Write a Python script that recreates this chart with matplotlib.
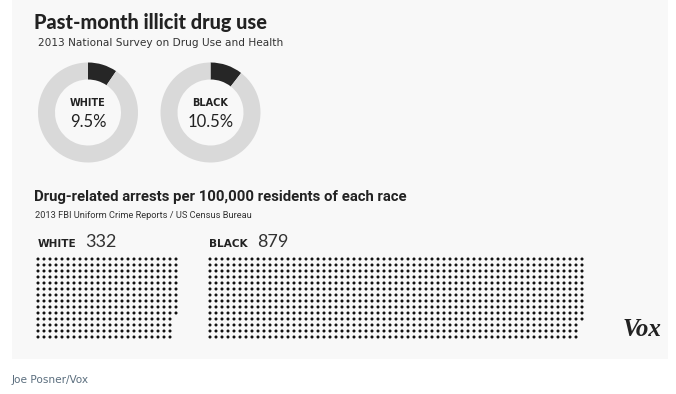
import numpy as np
import matplotlib
matplotlib.use("Agg")
import matplotlib.pyplot as plt
from matplotlib.patches import Rectangle

## Data
groups = ["WHITE", "BLACK"]
drug_use_pct = [9.5, 10.5]          # past-month illicit drug use, %
arrests_per_100k = [332, 879]       # drug-related arrests per 100,000 residents
dot_rows = 14                       # dots per column in the arrest grids

title1 = "Past-month illicit drug use"
sub1 = "2013 National Survey on Drug Use and Health"
title2 = "Drug-related arrests per 100,000 residents of each race"
sub2 = "2013 FBI Uniform Crime Reports / US Census Bureau"
credit = "Joe Posner/Vox"

W, H = 676, 394
fig = plt.figure(figsize=(W / 100, H / 100), dpi=100)
fig.patch.set_facecolor("white")

## Main canvas in pixel coordinates
ax = fig.add_axes([0, 0, 1, 1])
ax.set_xlim(0, W)
ax.set_ylim(H, 0)
ax.axis("off")
ax.add_patch(Rectangle((12, 0), 656, 359, facecolor="#f8f8f8", edgecolor="none", zorder=0))

dark = "#222222"

## Titles
ax.text(34, 22, title1, fontsize=14.3, fontweight="black", family="Lato", color=dark,
        va="center", ha="left")
ax.text(38, 43, sub1, fontsize=7.6, color="#333333", va="center", ha="left")
ax.text(34, 197, title2, fontsize=10.7, fontweight="bold", family="Roboto", color=dark,
        va="center", ha="left")
ax.text(35, 215, sub2, fontsize=6.7, family="Roboto", color="#333333", va="center", ha="left")

## Donuts
centers = [(88, 112.5), (210.5, 112.5)]
radius = 50
for (cx, cy), pct, name in zip(centers, drug_use_pct, groups):
    pax = fig.add_axes([(cx - radius) / W, (H - cy - radius) / H, 2 * radius / W, 2 * radius / H])
    pax.pie([pct, 100 - pct], colors=["#262626", "#d9d9d9"], startangle=90, counterclock=False,
            radius=1, wedgeprops=dict(width=0.34, edgecolor="none"))
    pax.set_xlim(-1, 1)
    pax.set_ylim(-1, 1)
    pax.axis("off")
    ax.text(cx, cy - 10, name, fontsize=7, fontweight="bold", color=dark, ha="center", va="center")
    ax.text(cx, cy + 9, "%.1f%%" % pct, fontsize=12, family="Lato", color=dark,
            ha="center", va="center")

## Dot grids (filled column by column, top to bottom)
starts = [(38, 259), (210, 259)]
step = 6.0
label_x = [(38, 85), (209, 257)]
for (x0, y0), n, name, (lx, nx) in zip(starts, arrests_per_100k, groups, label_x):
    idx = np.arange(n)
    cols = idx // dot_rows
    rows = idx % dot_rows
    ax.scatter(x0 + cols * step, y0 + rows * step, s=4.8, color="#111111", edgecolors="none", zorder=3)
    ax.text(lx, 243.5, name, fontsize=7.6, fontweight="bold", color=dark, ha="left", va="center")
    ax.text(nx, 242, str(n), fontsize=13, family="Lato", color="#333333", ha="left", va="center")

## Vox logo and credit
ax.text(642, 329, "Vox", fontsize=18, fontweight="bold", fontstyle="italic",
        family="Liberation Serif", color="#222222", ha="center", va="center")
ax.text(12, 380, credit, fontsize=7.6, color="#5b6e7e", ha="left", va="center")

plt.savefig("out.png", dpi=100, facecolor=fig.get_facecolor())
plt.close()
